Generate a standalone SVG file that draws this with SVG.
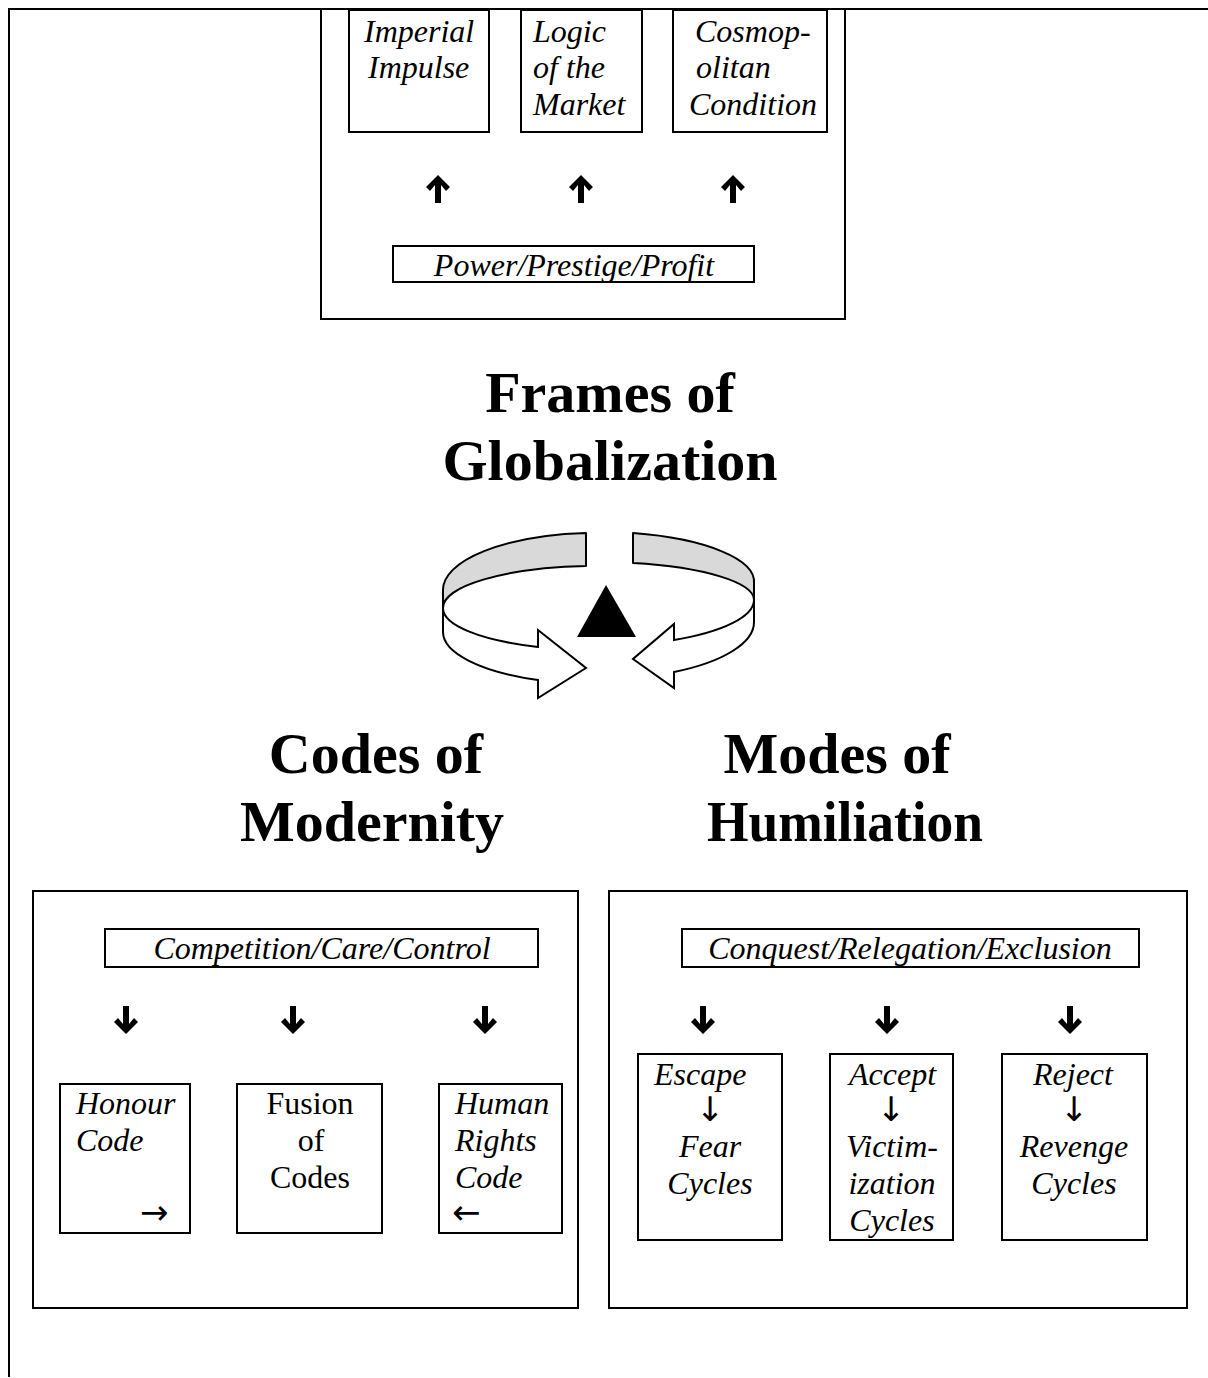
<svg xmlns="http://www.w3.org/2000/svg" width="1208" height="1378" viewBox="0 0 1208 1378">
<defs>
<style>
.frame{fill:none;stroke:#000;stroke-width:2}
.box{fill:#fff;stroke:#000;stroke-width:2}
.it{font-family:"Liberation Serif","Times New Roman",serif;font-style:italic;font-size:32px;fill:#000}
.rm{font-family:"Liberation Serif","Times New Roman",serif;font-size:32px;fill:#000}
.arr{font-family:"DejaVu Sans",sans-serif;font-size:34px;fill:#000}
.title{font-family:"Liberation Serif","Times New Roman",serif;font-weight:bold;font-size:58px;fill:#000;text-anchor:middle}
.mid{text-anchor:middle}
.gray{fill:#d9d9d9;stroke:#000;stroke-width:2;stroke-linejoin:round}
.white{fill:#fff;stroke:#000;stroke-width:2;stroke-linejoin:miter}
.barrow{fill:#000}
</style>
<path id="up" d="M0,-14 L12,-2 L8,2 L3,-4 L3,14 L-3,14 L-3,-4 L-8,2 L-12,-2 Z"/>
<path id="down" d="M0,14 L12,2 L8,-2 L3,4 L3,-14 L-3,-14 L-3,4 L-8,-2 L-12,2 Z"/>
</defs>
<rect width="1208" height="1378" fill="#fff"/>
<path class="frame" d="M9,1377 L9,9 L1208,9"/>

<g id="frames-panel">
<rect class="box" x="321" y="9" width="524" height="310"/>
</g>
<g id="imperial-impulse">
<rect class="box" x="349" y="10" width="140" height="122"/>
<text class="it" x="364" y="42">Imperial</text>
<text class="it" x="368" y="78">Impulse</text>
</g>
<g id="logic-of-the-market">
<rect class="box" x="521" y="10" width="121" height="122"/>
<text class="it" x="533" y="42">Logic</text>
<text class="it" x="533" y="78">of the</text>
<text class="it" x="533" y="115">Market</text>
</g>
<g id="cosmopolitan-condition">
<rect class="box" x="673" y="10" width="154" height="122"/>
<text class="it" x="695" y="42">Cosmop-</text>
<text class="it" x="696" y="78">olitan</text>
<text class="it" x="689" y="115">Condition</text>
</g>
<g id="power-prestige-profit">
<rect class="box" x="393" y="246" width="361" height="36"/>
<text class="it mid" x="574" y="276">Power/Prestige/Profit</text>
</g>

<g id="title-frames">
<text class="title" x="610" y="412">Frames of</text>
<text class="title" x="610" y="480">Globalization</text>
</g>

<g id="cycle-symbol">
<path class="gray" d="M586,533 A155,57 0 0 0 443,590 L443,608 A155,42 0 0 1 586,566 Z"/>
<path class="white" d="M443,608 A155,42 0 0 0 538,647 L538,630 L586,668 L538,698 L538,680 A155,52 0 0 1 443,632 Z"/>
<path class="gray" d="M633,533 A156,50 0 0 1 754,583 L754,600 A156,38 0 0 0 633,563 Z"/>
<path class="white" d="M754,600 A156,46 0 0 1 674,640 L674,624 L633,659 L674,688 L674,672 A156,57 0 0 0 754,622 Z"/>
<polygon fill="#000" points="606,585 577,637 636,637"/>
</g>

<g id="title-codes">
<text class="title" x="376" y="773">Codes of</text>
<text class="title" x="372" y="841">Modernity</text>
</g>
<g id="title-modes">
<text class="title" x="837" y="773">Modes of</text>
<text class="title" x="845" y="841" textLength="276" lengthAdjust="spacingAndGlyphs">Humiliation</text>
</g>

<g id="codes-panel">
<rect class="box" x="33" y="891" width="545" height="417"/>
</g>
<g id="competition-care-control">
<rect class="box" x="105" y="929" width="433" height="38"/>
<text class="it mid" x="322" y="959">Competition/Care/Control</text>
</g>
<g id="honour-code">
<rect class="box" x="60" y="1084" width="130" height="149"/>
<text class="it" x="76" y="1114">Honour</text>
<text class="it" x="76" y="1151">Code</text>
<text class="arr" x="140" y="1224">→</text>
</g>
<g id="fusion-of-codes">
<rect class="box" x="237" y="1084" width="145" height="149"/>
<text class="rm mid" x="310" y="1114">Fusion</text>
<text class="rm mid" x="311" y="1151">of</text>
<text class="rm mid" x="310" y="1188">Codes</text>
</g>
<g id="human-rights-code">
<rect class="box" x="439" y="1084" width="123" height="149"/>
<text class="it" x="455" y="1114">Human</text>
<text class="it" x="455" y="1151">Rights</text>
<text class="it" x="455" y="1188">Code</text>
<text class="arr" x="452" y="1224">←</text>
</g>

<g id="modes-panel">
<rect class="box" x="609" y="891" width="578" height="417"/>
</g>
<g id="conquest-relegation-exclusion">
<rect class="box" x="682" y="929" width="457" height="38"/>
<text class="it mid" x="910" y="959">Conquest/Relegation/Exclusion</text>
</g>
<g id="escape-fear-cycles">
<rect class="box" x="638" y="1054" width="144" height="186"/>
<text class="it" x="654" y="1085">Escape</text>
<text class="arr mid" x="710" y="1121">↓</text>
<text class="it mid" x="710" y="1157">Fear</text>
<text class="it mid" x="710" y="1194">Cycles</text>
</g>
<g id="accept-victimization-cycles">
<rect class="box" x="830" y="1054" width="123" height="186"/>
<text class="it" x="849" y="1085">Accept</text>
<text class="arr mid" x="891" y="1121">↓</text>
<text class="it mid" x="892" y="1157">Victim-</text>
<text class="it mid" x="892" y="1194">ization</text>
<text class="it mid" x="892" y="1231">Cycles</text>
</g>
<g id="reject-revenge-cycles">
<rect class="box" x="1002" y="1054" width="145" height="186"/>
<text class="it" x="1033" y="1085">Reject</text>
<text class="arr mid" x="1074" y="1121">↓</text>
<text class="it mid" x="1074" y="1157">Revenge</text>
<text class="it mid" x="1074" y="1194">Cycles</text>
</g>

<g id="connectors">
<use href="#up" class="barrow" x="438" y="189"/>
<use href="#up" class="barrow" x="581" y="189"/>
<use href="#up" class="barrow" x="733" y="189"/>
<use href="#down" class="barrow" x="126" y="1020"/>
<use href="#down" class="barrow" x="293" y="1020"/>
<use href="#down" class="barrow" x="485" y="1020"/>
<use href="#down" class="barrow" x="703" y="1020"/>
<use href="#down" class="barrow" x="887" y="1020"/>
<use href="#down" class="barrow" x="1070" y="1020"/>
</g>
</svg>
